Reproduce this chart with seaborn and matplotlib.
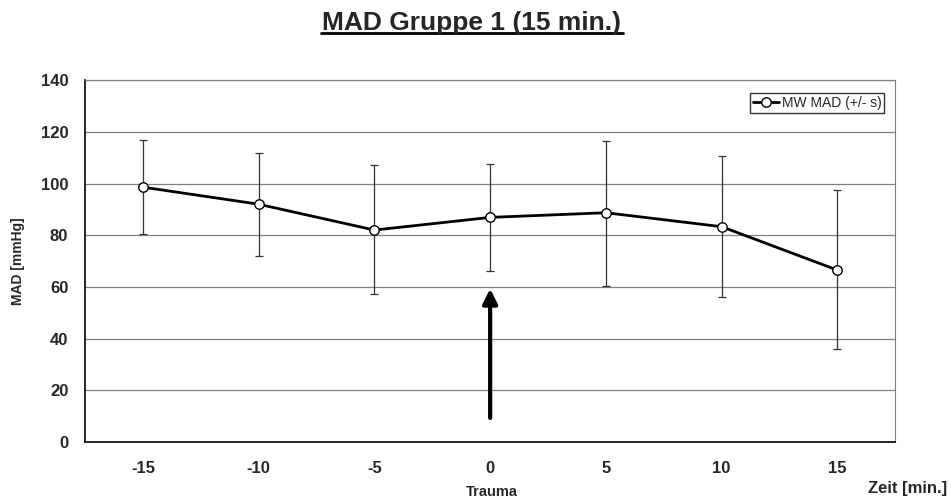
import numpy as np
import pandas as pd
import matplotlib
matplotlib.use("Agg")
import matplotlib.pyplot as plt
import seaborn as sns

# Values
zeit = ["-15", "-10", "-5", "0", "5", "10", "15"]
mad_mean = [98.6, 92.0, 82.0, 86.9, 88.7, 83.3, 66.5]
mad_upper = [117.0, 112.0, 107.1, 107.4, 116.6, 110.5, 97.4]
mad_lower = [80.4, 71.9, 57.1, 66.2, 60.3, 56.2, 36.0]

df = pd.DataFrame({"Zeit": zeit, "MAD": mad_mean,
                   "upper": mad_upper, "lower": mad_lower})
df["pos"] = np.arange(len(df))

sns.set_style("white")
plt.rcParams['font.family'] = ['Liberation Sans', 'DejaVu Sans']

fig = plt.figure(figsize=(9.51, 5.04), dpi=100)
ax = fig.add_axes([0.0894, 0.123, 0.852, 0.718])

# gridlines
ax.set_axisbelow(True)
ax.yaxis.grid(True, color='#808080', linewidth=0.9)

# error bars (+/- s)
yerr = [df["MAD"] - df["lower"], df["upper"] - df["MAD"]]
ax.errorbar(df["pos"], df["MAD"], yerr=yerr, fmt='none', ecolor='#333333',
            elinewidth=0.9, capsize=2.6, capthick=0.9, zorder=2)

sns.lineplot(data=df, x="pos", y="MAD", ax=ax, color='black', linewidth=2,
             marker='o', markersize=6.8, markerfacecolor='white',
             markeredgecolor='black', markeredgewidth=1, label='MW MAD (+/- s)',
             zorder=3)

# Trauma arrow at time 0
ax.annotate('', xy=(3, 59.3), xytext=(3, 9.3),
            arrowprops=dict(arrowstyle='-|>', color='black', lw=3,
                            mutation_scale=22, shrinkA=0, shrinkB=0))

ax.set_xlim(-0.5, 6.5)
ax.set_ylim(0, 140)
ax.set_yticks(range(0, 141, 20))
ax.set_xticks(df["pos"])
ax.set_xticklabels(zeit, fontweight='bold', fontsize=12)
ax.set_xticks(np.arange(-0.5, 7, 1), minor=True)
ax.tick_params(axis='x', which='major', length=0, pad=13.5)
ax.tick_params(axis='x', which='minor', length=5, direction='out', width=1)
ax.tick_params(axis='y', length=6, direction='out', width=1, labelsize=12,
               pad=6)
for lab in ax.get_yticklabels():
    lab.set_fontweight('bold')

for s in ['left', 'bottom']:
    ax.spines[s].set_color('black')
    ax.spines[s].set_linewidth(1.2)
ax.spines['right'].set_color('#808080')
ax.spines['top'].set_color('#808080')
ax.spines['top'].set_linewidth(0.9)

ax.set_xlabel('')
ax.set_ylabel('MAD [mmHg]', fontweight='bold', fontsize=10)
ax.yaxis.set_label_coords(-0.074, 0.5)

fig.text(492 / 951, 1 - 492 / 504, 'Trauma', ha='center', va='center',
         fontsize=10.5, fontweight='bold')
fig.text(947 / 951, 1 - 493 / 504, 'Zeit [min.]', ha='right', va='baseline',
         fontsize=12, fontweight='bold')

fig.text(472 / 951, 1 - 30 / 504, 'MAD Gruppe 1 (15 min.)', ha='center',
         va='baseline', fontsize=19, fontweight='bold')
# underline for the title
fig.add_artist(plt.Line2D([321 / 951, 623 / 951], [1 - 33 / 504, 1 - 33 / 504],
                          color='black', linewidth=2,
                          transform=fig.transFigure))

leg = ax.legend(loc='upper right', bbox_to_anchor=(0.9864, 0.964), fontsize=10,
                frameon=True, fancybox=False, edgecolor='black',
                handlelength=1.9, borderpad=0.2, handletextpad=0.2,
                borderaxespad=0)
leg.get_frame().set_linewidth(1)

fig.savefig('out.png', dpi=100)
